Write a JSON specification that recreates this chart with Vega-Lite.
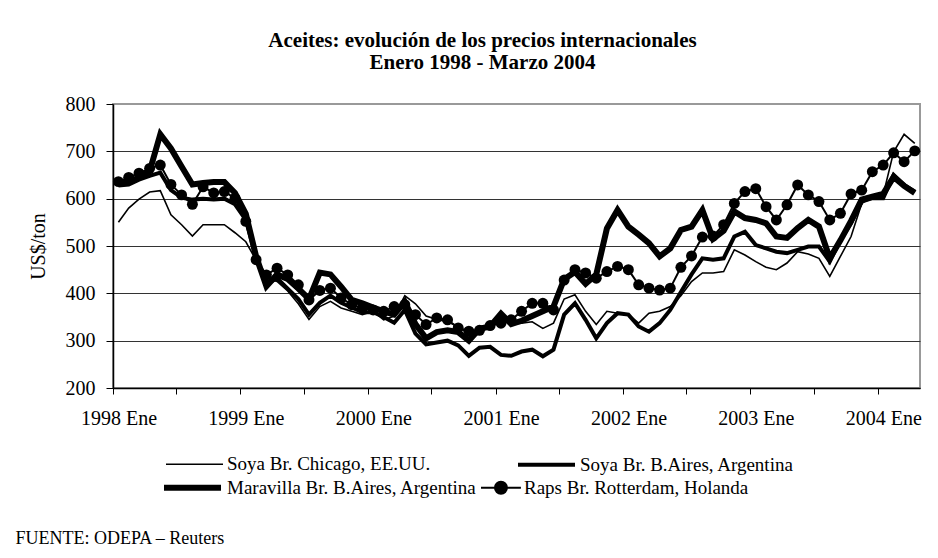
{
  "$schema": "https://vega.github.io/schema/vega-lite/v6.json",
  "autosize": {"type": "none"},
  "width": 807,
  "height": 284,
  "padding": {"left": 113, "top": 104, "right": 18, "bottom": 170},
  "background": "white",
  "config": {"view": {"stroke": "#999999", "strokeWidth": 2}, "font": "Liberation Serif"},
  "title": {
    "text": ["Aceites: evolución de los precios internacionales", "Enero 1998 - Marzo 2004"],
    "font": "Liberation Serif", "fontSize": 21, "fontWeight": "bold", "color": "black",
    "anchor": "middle", "dx": -34, "offset": 21, "lineHeight": 22
  },
  "data": {"values": [
    {"d": "1998-01", "c": 550, "s": 628, "m": 632, "r": 636},
    {"d": "1998-02", "c": 580, "s": 630, "m": 635, "r": 645},
    {"d": "1998-03", "c": 599, "s": 640, "m": 645, "r": 654},
    {"d": "1998-04", "c": 614, "s": 648, "m": 658, "r": 664},
    {"d": "1998-05", "c": 617, "s": 655, "m": 736, "r": 671},
    {"d": "1998-06", "c": 566, "s": 618, "m": 706, "r": 630},
    {"d": "1998-07", "c": 545, "s": 602, "m": 668, "r": 608},
    {"d": "1998-08", "c": 521, "s": 598, "m": 630, "r": 588},
    {"d": "1998-09", "c": 545, "s": 600, "m": 633, "r": 625},
    {"d": "1998-10", "c": 545, "s": 598, "m": 635, "r": 612},
    {"d": "1998-11", "c": 545, "s": 600, "m": 635, "r": 615},
    {"d": "1998-12", "c": 528, "s": 588, "m": 612, "r": 601},
    {"d": "1999-01", "c": 509, "s": 555, "m": 568, "r": 552},
    {"d": "1999-02", "c": 470, "s": 475, "m": 478, "r": 471},
    {"d": "1999-03", "c": 432, "s": 420, "m": 415, "r": 439},
    {"d": "1999-04", "c": 425, "s": 432, "m": 440, "r": 453},
    {"d": "1999-05", "c": 405, "s": 410, "m": 430, "r": 439},
    {"d": "1999-06", "c": 378, "s": 388, "m": 410, "r": 418},
    {"d": "1999-07", "c": 345, "s": 355, "m": 388, "r": 386},
    {"d": "1999-08", "c": 372, "s": 380, "m": 444, "r": 406},
    {"d": "1999-09", "c": 383, "s": 395, "m": 440, "r": 411},
    {"d": "1999-10", "c": 369, "s": 380, "m": 414, "r": 390},
    {"d": "1999-11", "c": 362, "s": 370, "m": 386, "r": 376},
    {"d": "1999-12", "c": 355, "s": 360, "m": 379, "r": 369},
    {"d": "2000-01", "c": 362, "s": 360, "m": 370, "r": 365},
    {"d": "2000-02", "c": 344, "s": 350, "m": 362, "r": 362},
    {"d": "2000-03", "c": 352, "s": 338, "m": 355, "r": 372},
    {"d": "2000-04", "c": 395, "s": 365, "m": 382, "r": 376},
    {"d": "2000-05", "c": 378, "s": 315, "m": 335, "r": 355},
    {"d": "2000-06", "c": 352, "s": 292, "m": 305, "r": 334},
    {"d": "2000-07", "c": 345, "s": 296, "m": 318, "r": 348},
    {"d": "2000-08", "c": 340, "s": 300, "m": 322, "r": 344},
    {"d": "2000-09", "c": 330, "s": 290, "m": 318, "r": 327},
    {"d": "2000-10", "c": 315, "s": 268, "m": 300, "r": 320},
    {"d": "2000-11", "c": 320, "s": 285, "m": 325, "r": 322},
    {"d": "2000-12", "c": 330, "s": 287, "m": 330, "r": 332},
    {"d": "2001-01", "c": 345, "s": 270, "m": 357, "r": 337},
    {"d": "2001-02", "c": 335, "s": 268, "m": 335, "r": 344},
    {"d": "2001-03", "c": 337, "s": 277, "m": 342, "r": 362},
    {"d": "2001-04", "c": 340, "s": 281, "m": 352, "r": 379},
    {"d": "2001-05", "c": 326, "s": 267, "m": 362, "r": 379},
    {"d": "2001-06", "c": 337, "s": 281, "m": 372, "r": 365},
    {"d": "2001-07", "c": 388, "s": 355, "m": 430, "r": 428},
    {"d": "2001-08", "c": 397, "s": 379, "m": 445, "r": 450},
    {"d": "2001-09", "c": 362, "s": 344, "m": 420, "r": 443},
    {"d": "2001-10", "c": 334, "s": 305, "m": 440, "r": 432},
    {"d": "2001-11", "c": 362, "s": 337, "m": 537, "r": 446},
    {"d": "2001-12", "c": 358, "s": 358, "m": 576, "r": 457},
    {"d": "2002-01", "c": 355, "s": 355, "m": 541, "r": 450},
    {"d": "2002-02", "c": 337, "s": 330, "m": 524, "r": 418},
    {"d": "2002-03", "c": 358, "s": 319, "m": 506, "r": 411},
    {"d": "2002-04", "c": 362, "s": 337, "m": 478, "r": 407},
    {"d": "2002-05", "c": 372, "s": 365, "m": 495, "r": 411},
    {"d": "2002-06", "c": 395, "s": 403, "m": 534, "r": 455},
    {"d": "2002-07", "c": 425, "s": 440, "m": 541, "r": 479},
    {"d": "2002-08", "c": 443, "s": 474, "m": 576, "r": 519},
    {"d": "2002-09", "c": 443, "s": 471, "m": 515, "r": 521},
    {"d": "2002-10", "c": 446, "s": 474, "m": 532, "r": 545},
    {"d": "2002-11", "c": 492, "s": 520, "m": 573, "r": 590},
    {"d": "2002-12", "c": 481, "s": 530, "m": 559, "r": 615},
    {"d": "2003-01", "c": 467, "s": 502, "m": 555, "r": 621},
    {"d": "2003-02", "c": 455, "s": 495, "m": 548, "r": 583},
    {"d": "2003-03", "c": 450, "s": 488, "m": 520, "r": 555},
    {"d": "2003-04", "c": 464, "s": 485, "m": 517, "r": 587},
    {"d": "2003-05", "c": 488, "s": 492, "m": 538, "r": 629},
    {"d": "2003-06", "c": 483, "s": 499, "m": 555, "r": 608},
    {"d": "2003-07", "c": 474, "s": 499, "m": 541, "r": 594},
    {"d": "2003-08", "c": 436, "s": 467, "m": 474, "r": 555},
    {"d": "2003-09", "c": 478, "s": 513, "m": 512, "r": 569},
    {"d": "2003-10", "c": 520, "s": 548, "m": 553, "r": 610},
    {"d": "2003-11", "c": 590, "s": 594, "m": 598, "r": 618},
    {"d": "2003-12", "c": 604, "s": 601, "m": 604, "r": 657},
    {"d": "2004-01", "c": 608, "s": 601, "m": 610, "r": 671},
    {"d": "2004-02", "c": 699, "s": 650, "m": 646, "r": 697},
    {"d": "2004-03", "c": 736, "s": 629, "m": 627, "r": 678},
    {"d": "2004-04", "c": 717, "s": 615, "m": 612, "r": 701}
  ]},
  "encoding": {
    "x": {
      "field": "d", "type": "temporal", "timeUnit": "utcyearmonth", "bandPosition": 0.5,
      "scale": {"type": "utc", "nice": false, "domain": [
        {"year": 1998, "month": 1, "date": 1, "utc": true},
        {"year": 2004, "month": 5, "date": 1, "utc": true}
      ]},
      "axis": {
        "values": [
          {"year": 1998, "month": 1, "date": 1, "utc": true},
          {"year": 1998, "month": 7, "date": 1, "utc": true},
          {"year": 1999, "month": 1, "date": 1, "utc": true},
          {"year": 1999, "month": 7, "date": 1, "utc": true},
          {"year": 2000, "month": 1, "date": 1, "utc": true},
          {"year": 2000, "month": 7, "date": 1, "utc": true},
          {"year": 2001, "month": 1, "date": 1, "utc": true},
          {"year": 2001, "month": 7, "date": 1, "utc": true},
          {"year": 2002, "month": 1, "date": 1, "utc": true},
          {"year": 2002, "month": 7, "date": 1, "utc": true},
          {"year": 2003, "month": 1, "date": 1, "utc": true},
          {"year": 2003, "month": 7, "date": 1, "utc": true},
          {"year": 2004, "month": 1, "date": 1, "utc": true}
        ],
        "labelExpr": "utcmonth(datum.value) == 0 ? utcFormat(datum.value, '%Y') + ' Ene' : ''",
        "labelOffset": 5.5,
        "labelOverlap": false,
        "labelFlush": false,
        "labelBound": false,
        "labelFont": "Liberation Serif", "labelFontSize": 20, "labelColor": "black",
        "labelPadding": 14,
        "tickSize": 6, "tickColor": "black", "tickWidth": 1,
        "domainColor": "black", "domainWidth": 1.5,
        "grid": false,
        "title": "FUENTE: ODEPA – Reuters",
        "titleFont": "Liberation Serif", "titleFontSize": 18, "titleFontWeight": "normal", "titleColor": "black",
        "titleAnchor": "start", "titleAlign": "left", "titleBaseline": "alphabetic",
        "titleX": -98, "titleY": 155
      }
    },
    "y": {
      "type": "quantitative",
      "scale": {"domain": [200, 800], "nice": false, "zero": false},
      "axis": {
        "values": [200, 300, 400, 500, 600, 700, 800],
        "grid": true,
        "gridColor": {"condition": {"test": "datum.value == 800", "value": "#999999"}, "value": "#333333"},
        "gridWidth": 1,
        "tickSize": 7, "tickColor": "black",
        "domainColor": "black", "domainWidth": 1.5,
        "labelFont": "Liberation Serif", "labelFontSize": 20, "labelColor": "black", "labelPadding": 11,
        "title": "US$/ton",
        "titleFont": "Liberation Serif", "titleFontSize": 20, "titleFontWeight": "normal", "titleColor": "black",
        "titlePadding": 17
      }
    }
  },
  "layer": [
    {
      "transform": [{"fold": ["c", "s"], "as": ["k", "v"]}],
      "mark": {"type": "line", "color": "black"},
      "encoding": {
        "y": {"field": "v", "type": "quantitative"},
        "strokeWidth": {
          "field": "k", "type": "ordinal",
          "scale": {"domain": ["c", "s"], "range": [1.6, 4]},
          "legend": {
            "orient": "none", "legendX": 52, "legendY": 330,
            "direction": "horizontal", "title": null,
            "symbolType": "stroke", "symbolSize": 3249, "symbolStrokeColor": "black",
            "labelFont": "Liberation Serif", "labelFontSize": 19, "labelColor": "black",
            "labelOffset": 3, "labelLimit": 400, "columnPadding": 79,
            "labelExpr": "datum.value == 'c' ? 'Soya Br. Chicago, EE.UU.' : 'Soya Br. B.Aires, Argentina'"
          }
        }
      }
    },
    {
      "transform": [{"fold": ["m", "r"], "as": ["k", "v"]}],
      "mark": {"type": "line", "color": "black"},
      "encoding": {
        "y": {"field": "v", "type": "quantitative"},
        "strokeWidth": {
          "field": "k", "type": "ordinal",
          "scale": {"domain": ["m", "r"], "range": [6, 2]},
          "legend": {
            "orient": "none", "legendX": 48, "legendY": 352,
            "direction": "horizontal", "title": null,
            "symbolType": "stroke", "symbolSize": 3249, "symbolStrokeColor": "black",
            "labelFont": "Liberation Serif", "labelFontSize": 19, "labelColor": "black",
            "labelOffset": 3, "labelLimit": 400, "columnPadding": 0,
            "labelExpr": "datum.value == 'm' ? 'Maravilla Br. B.Aires, Argentina' : 'Raps Br. Rotterdam, Holanda'",
            "encode": {
              "symbols": {
                "update": {
                  "shape": {"signal": "datum.value == 'r' ? 'M-1.07,0L0.33,0M-0.16,0A0.21,0.21,0,1,1,-0.58,0A0.21,0.21,0,1,1,-0.16,0Z' : 'stroke'"},
                  "fill": {"value": "black"},
                  "stroke": {"value": "black"},
                  "strokeWidth": {"signal": "datum.value == 'r' ? 2 : 7"},
                  "size": {"value": 3249},
                  "opacity": {"value": 1}
                }
              },
              "labels": {
                "update": {
                  "dx": {"signal": "datum.value == 'r' ? -20 : 0"}
                }
              }
            }
          }
        }
      }
    },
    {
      "mark": {"type": "point", "filled": true, "color": "black", "opacity": 1, "size": 120},
      "encoding": {
        "y": {"field": "r", "type": "quantitative"}
      }
    }
  ],
  "resolve": {"scale": {"strokeWidth": "independent"}, "legend": {"strokeWidth": "independent"}}
}
